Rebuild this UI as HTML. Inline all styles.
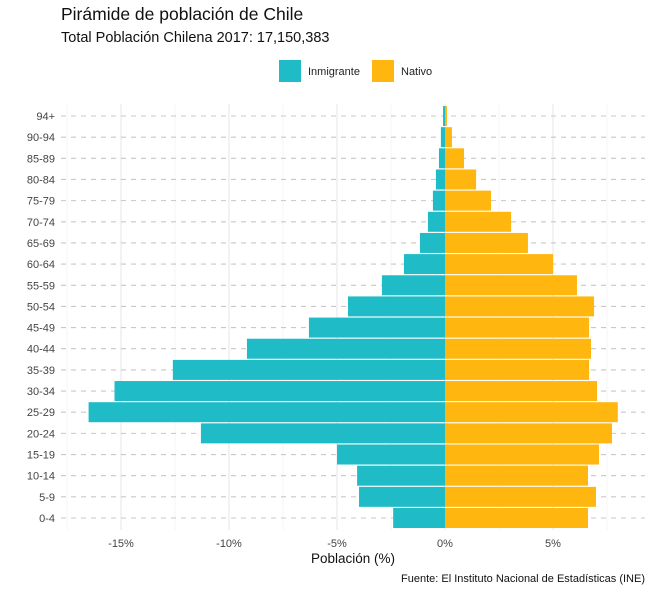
<!DOCTYPE html>
<html><head><meta charset="utf-8"><style>
body{margin:0;background:#fff;font-family:"Liberation Sans",sans-serif;}
svg text{font-family:"Liberation Sans",sans-serif;}
</style></head><body>
<svg width="652" height="591">
<text x="61" y="20" font-size="17.5" fill="#111">Pirámide de población de Chile</text>
<text x="61" y="42" font-size="14.5" fill="#111">Total Población Chilena 2017: 17,150,383</text>
<g>
<rect x="279" y="60" width="22" height="22" fill="#1fbbc6"/>
<text x="308" y="75" font-size="11" fill="#222">Inmigrante</text>
<rect x="372" y="60" width="22" height="22" fill="#ffb60e"/>
<text x="401" y="75" font-size="11" fill="#222">Nativo</text>
</g>
<g id="grid"></g><g id="bars"></g><g id="axes"></g>
<text x="353" y="563" font-size="13.5" text-anchor="middle" fill="#111">Población (%)</text>
<text x="645" y="582" font-size="11" text-anchor="end" fill="#111">Fuente:  El Instituto Nacional de Estadísticas (INE)</text>
</svg>
<script>
const categories=["0-4","5-9","10-14","15-19","20-24","25-29","30-34","35-39","40-44","45-49","50-54","55-59","60-64","65-69","70-74","75-79","80-84","85-89","90-94","94+"];
const inmigrante=[-2.4,-3.98,-4.07,-5.0,-11.3,-16.5,-15.3,-12.6,-9.17,-6.3,-4.49,-2.92,-1.9,-1.16,-0.79,-0.56,-0.42,-0.28,-0.19,-0.09];
const nativo=[6.62,6.99,6.62,7.13,7.73,8.0,7.04,6.67,6.76,6.67,6.9,6.11,5.0,3.84,3.06,2.13,1.44,0.88,0.32,0.09];
const tickValues=[-15,-10,-5,0,5];
const tickLabels=["-15%","-10%","-5%","0%","5%"];
const minorValues=[-17.5,-12.5,-7.5,-2.5,2.5,7.5];
const NS="http://www.w3.org/2000/svg";
const X=v=>445+v*21.6;
const Y=i=>518-i*(402/19);
const plotL=61,plotR=645,plotT=104,plotB=530;
function mk(tag,attrs,parent){const e=document.createElementNS(NS,tag);for(const k in attrs)e.setAttribute(k,attrs[k]);parent.appendChild(e);return e;}
const grid=document.getElementById('grid'),bars=document.getElementById('bars'),axes=document.getElementById('axes');
minorValues.forEach(v=>{const l=mk('line',{x1:X(v),x2:X(v),y1:plotT,y2:plotB,stroke:'#f0f0f0','stroke-width':0.6},grid);

});
tickValues.forEach((v,i)=>{const l=mk('line',{x1:X(v),x2:X(v),y1:plotT,y2:plotB,stroke:'#e6e6e6','stroke-width':1.1},grid);


const t=mk('text',{x:X(v),y:547,'font-size':11,'text-anchor':'middle',fill:'#444'},axes);t.textContent=tickLabels[i];

});
categories.forEach((c,i)=>{const y=Y(i);
const l=mk('line',{x1:plotL,x2:plotR,y1:y,y2:y,stroke:'#c8c8c8','stroke-width':1.1,'stroke-dasharray':'5,5'},grid);


const t=mk('text',{x:55,y:y+4,'font-size':11,'text-anchor':'end',fill:'#444'},axes);t.textContent=c;


const h=20;
const a=mk('rect',{x:X(inmigrante[i]),y:y-h/2,width:X(0)-X(inmigrante[i]),height:h,fill:'#1fbbc6'},bars);


const b=mk('rect',{x:X(0),y:y-h/2,width:X(nativo[i])-X(0),height:h,fill:'#ffb60e'},bars);

});
</script>
</body></html>
